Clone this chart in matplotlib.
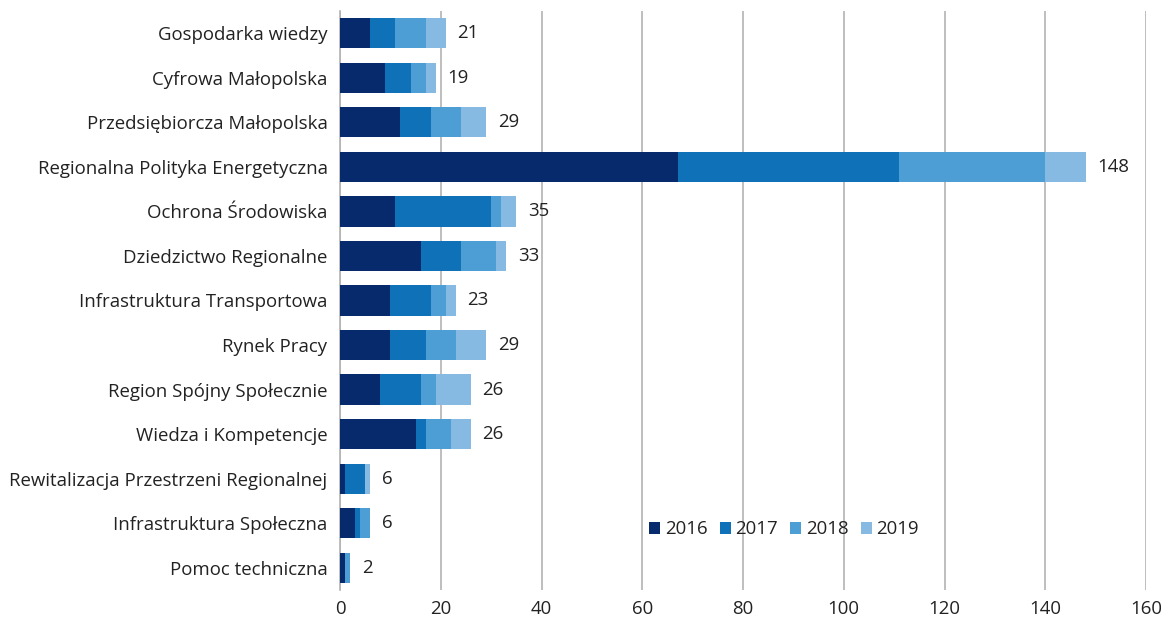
import matplotlib
matplotlib.use('agg')
import matplotlib.pyplot as plt
import numpy as np

categories = ['Gospodarka wiedzy', 'Cyfrowa Małopolska', 'Przedsiębiorcza Małopolska',
              'Regionalna Polityka Energetyczna', 'Ochrona Środowiska', 'Dziedzictwo Regionalne',
              'Infrastruktura Transportowa', 'Rynek Pracy', 'Region Spójny Społecznie',
              'Wiedza i Kompetencje', 'Rewitalizacja Przestrzeni Regionalnej',
              'Infrastruktura Społeczna', 'Pomoc techniczna']
years = ['2016', '2017', '2018', '2019']
v2016 = [6, 9, 12, 67, 11, 16, 10, 10, 8, 15, 1, 3, 1]
v2017 = [5, 5, 6, 44, 19, 8, 8, 7, 8, 2, 4, 1, 0]
v2018 = [6, 3, 6, 29, 2, 7, 3, 6, 3, 5, 0, 2, 1]
v2019 = [4, 2, 5, 8, 3, 2, 2, 6, 7, 4, 1, 0, 0]
colors = ['#062a6b', '#0f72b9', '#4d9ed5', '#87bae3']

plt.rcParams['font.family'] = ['Open Sans', 'DejaVu Sans']
fs = 13.4

fig = plt.figure(figsize=(11.61, 6.17), dpi=100)
ax = fig.add_axes([340 / 1161, 1 - 590 / 617, (1146 - 340) / 1161, (590 - 11) / 617])

y = np.arange(len(categories))
left = np.zeros(len(categories))
for vals, yr, c in zip([v2016, v2017, v2018, v2019], years, colors):
    ax.barh(y, vals, left=left, height=0.68, color=c, label=yr, zorder=3)
    left += np.array(vals)

# sumy na końcu słupków
for yi, tot in zip(y, left):
    ax.text(tot + 2.3, yi, str(int(tot)), va='center', ha='left', fontsize=fs, color='#222222')

ax.set_ylim(len(categories) - 0.5, -0.5)
ax.set_xlim(0, 160)
ax.set_xticks(range(0, 161, 20))
ax.set_yticks(y)
ax.set_yticklabels(categories, fontsize=fs, color='#222222')
ax.tick_params(axis='x', labelsize=fs, colors='#222222', length=0, pad=7)
ax.tick_params(axis='y', length=0, pad=9)
ax.grid(axis='x', color='#b3b3b3', linewidth=1.2, zorder=0)
for s in ['top', 'right', 'bottom']:
    ax.spines[s].set_visible(False)
ax.spines['left'].set_color('#b3b3b3')
ax.spines['left'].set_linewidth(1.2)

ax.legend(loc='center', bbox_to_anchor=(0.551, 0.105), ncol=4, frameon=False,
          fontsize=fs, handlelength=0.6, handleheight=0.6, handletextpad=0.25,
          columnspacing=0.65, labelcolor='#222222')

fig.savefig('out.png', dpi=100)
